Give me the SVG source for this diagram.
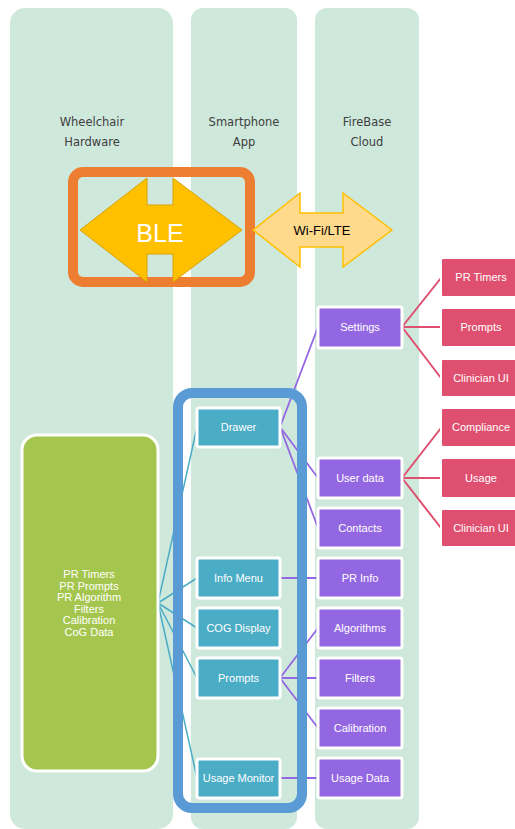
<svg xmlns="http://www.w3.org/2000/svg" width="515" height="829" viewBox="0 0 515 829">
<style>
.col{fill:#CFE8DC}
.lbl{font-family:"DejaVu Sans","Liberation Sans",Arial,sans-serif;font-size:11.5px;fill:#404040;text-anchor:middle}
.t{font-family:"Liberation Sans",Arial,sans-serif;font-size:11px;fill:#FFFFFF;text-anchor:middle}
.blue{fill:#4BACC6;stroke:#FFFFFF;stroke-width:3}
.purp{fill:#9467E2;stroke:#FFFFFF;stroke-width:3}
.red{fill:#DF4F6F;stroke:#FFFFFF;stroke-width:2}
.cc{stroke:#4BACC6;stroke-width:1.5;fill:none}
.pc{stroke:#9467E2;stroke-width:1.8;fill:none}
.rc{stroke:#DF4F6F;stroke-width:2;fill:none}
</style>
<rect width="515" height="829" fill="#FFFFFF"/>
<g id="columns">
<rect class="col" x="10" y="8" width="163" height="821" rx="15"/>
<rect class="col" x="191" y="8" width="106" height="821" rx="12"/>
<rect class="col" x="315" y="8" width="104" height="821" rx="12"/>
<text class="lbl" x="92" y="126">Wheelchair</text>
<text class="lbl" x="92" y="146">Hardware</text>
<text class="lbl" x="244" y="126">Smartphone</text>
<text class="lbl" x="244" y="146">App</text>
<text class="lbl" x="367" y="126">FireBase</text>
<text class="lbl" x="367" y="146">Cloud</text>
</g>
<g id="connectors">
<path class="cc" d="M158 603 L197 427 M158 603 L197 578 M158 603 L197 628 M158 603 L197 678 M158 603 L197 778"/>
<path class="pc" d="M280 427 L318 327 M280 427 L318 478 M280 427 L318 528 M280 578 L318 578 M280 678 L318 628 M280 678 L318 678 M280 678 L318 728 M280 778 L318 778"/>
<path class="rc" d="M402 327 L441 278 M402 327 L441 327 M402 327 L441 378 M402 478 L441 428 M402 478 L441 478 M402 478 L441 528"/>
</g>
<g id="ble-frame">
<rect x="73" y="172" width="177" height="110" rx="10" fill="none" stroke="#ED7D31" stroke-width="10"/>
</g>
<g id="ble">
<path d="M80 230 L147 178 L147 205 L173 205 L173 178 L242 230 L173 282 L173 254 L147 254 L147 282 Z" fill="#FFC000" stroke="#D9A300" stroke-width="1"/>
<text x="160" y="242" font-family="'Liberation Sans',Arial,sans-serif" font-size="25" fill="#FFFFFF" text-anchor="middle">BLE</text>
</g>
<g id="wifi">
<path d="M253 230 L300 193 L300 213 L343 213 L343 193 L392 230 L343 267 L343 247 L300 247 L300 267 Z" fill="#FFD98C" stroke="#FFC000" stroke-width="1.5"/>
<text x="322" y="235" font-family="'Liberation Sans',Arial,sans-serif" font-size="13" fill="#000000" text-anchor="middle">Wi-Fi/LTE</text>
</g>
<g id="hardware">
<rect x="22" y="435" width="136" height="336" rx="15" fill="#A5C64E" stroke="#FFFFFF" stroke-width="3"/>
<text class="t" x="89" y="578">PR Timers</text>
<text class="t" x="89" y="590">PR Prompts</text>
<text class="t" x="89" y="601">PR Algorithm</text>
<text class="t" x="89" y="613">Filters</text>
<text class="t" x="89" y="624">Calibration</text>
<text class="t" x="89" y="636">CoG Data</text>
</g>
<g id="app-frame">
<rect x="178" y="393" width="124" height="415" rx="14" fill="none" stroke="#5B9BD5" stroke-width="10"/>
</g>
<g id="drawer"><rect class="blue" x="197" y="408" width="83" height="39" rx="2"/><text class="t" x="238.5" y="431">Drawer</text></g>
<g id="info-menu"><rect class="blue" x="197" y="558" width="83" height="40" rx="2"/><text class="t" x="238.5" y="582">Info Menu</text></g>
<g id="cog-display"><rect class="blue" x="197" y="608" width="83" height="40" rx="2"/><text class="t" x="238.5" y="632">COG Display</text></g>
<g id="prompts-app"><rect class="blue" x="197" y="658" width="83" height="40" rx="2"/><text class="t" x="238.5" y="682">Prompts</text></g>
<g id="usage-monitor"><rect class="blue" x="197" y="759" width="83" height="39" rx="2"/><text class="t" x="238.5" y="782">Usage Monitor</text></g>
<g id="settings"><rect class="purp" x="318" y="307" width="84" height="41" rx="2"/><text class="t" x="360" y="331">Settings</text></g>
<g id="user-data"><rect class="purp" x="318" y="458" width="84" height="40" rx="2"/><text class="t" x="360" y="482">User data</text></g>
<g id="contacts"><rect class="purp" x="318" y="508" width="84" height="40" rx="2"/><text class="t" x="360" y="532">Contacts</text></g>
<g id="pr-info"><rect class="purp" x="318" y="558" width="84" height="40" rx="2"/><text class="t" x="360" y="582">PR Info</text></g>
<g id="algorithms"><rect class="purp" x="318" y="608" width="84" height="40" rx="2"/><text class="t" x="360" y="632">Algorithms</text></g>
<g id="filters"><rect class="purp" x="318" y="658" width="84" height="40" rx="2"/><text class="t" x="360" y="682">Filters</text></g>
<g id="calibration"><rect class="purp" x="318" y="708" width="84" height="40" rx="2"/><text class="t" x="360" y="732">Calibration</text></g>
<g id="usage-data"><rect class="purp" x="318" y="758" width="84" height="40" rx="2"/><text class="t" x="360" y="782">Usage Data</text></g>
<g id="pr-timers"><rect class="red" x="441" y="258" width="80" height="39" rx="2"/><text class="t" x="481" y="281">PR Timers</text></g>
<g id="prompts-cloud"><rect class="red" x="441" y="308" width="80" height="39" rx="2"/><text class="t" x="481" y="331">Prompts</text></g>
<g id="clinician-ui-1"><rect class="red" x="441" y="359" width="80" height="38" rx="2"/><text class="t" x="481" y="382">Clinician UI</text></g>
<g id="compliance"><rect class="red" x="441" y="408" width="80" height="39" rx="2"/><text class="t" x="481" y="431">Compliance</text></g>
<g id="usage"><rect class="red" x="441" y="458" width="80" height="40" rx="2"/><text class="t" x="481" y="482">Usage</text></g>
<g id="clinician-ui-2"><rect class="red" x="441" y="509" width="80" height="38" rx="2"/><text class="t" x="481" y="532">Clinician UI</text></g>
</svg>
